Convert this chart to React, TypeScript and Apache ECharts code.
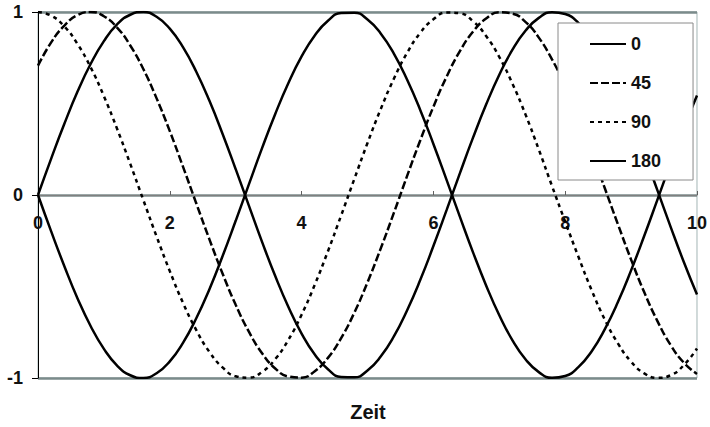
import React, { useEffect, useRef } from "react";
import * as echarts from "echarts";

const XS = [
  0, 0.2, 0.4, 0.6, 0.8, 1.0, 1.2, 1.4, 1.6, 1.8, 2.0, 2.2, 2.4, 2.6, 2.8, 3.0, 3.2, 3.4, 3.6, 3.8,
  4.0, 4.2, 4.4, 4.6, 4.8, 5.0, 5.2, 5.4, 5.6, 5.8, 6.0, 6.2, 6.4, 6.6, 6.8, 7.0, 7.2, 7.4, 7.6, 7.8,
  8.0, 8.2, 8.4, 8.6, 8.8, 9.0, 9.2, 9.4, 9.6, 9.8, 10.0,
];

const SERIES_NAMES = ["0", "45", "90", "180"];

const PHASE_0 = [
  0, 0.199, 0.389, 0.565, 0.717, 0.841, 0.932, 0.985, 1.0, 0.974, 0.909, 0.808, 0.675, 0.516, 0.335,
  0.141, -0.058, -0.256, -0.443, -0.612, -0.757, -0.872, -0.952, -0.994, -0.996, -0.959, -0.883,
  -0.773, -0.631, -0.465, -0.279, -0.083, 0.117, 0.312, 0.494, 0.657, 0.794, 0.899, 0.968, 0.999,
  0.989, 0.941, 0.855, 0.734, 0.585, 0.412, 0.223, 0.025, -0.174, -0.366, -0.544,
];

const PHASE_45 = [
  0.707, 0.834, 0.926, 0.983, 1.0, 0.977, 0.915, 0.817, 0.687, 0.528, 0.349, 0.155, -0.044, -0.241,
  -0.429, -0.6, -0.747, -0.865, -0.948, -0.992, -0.998, -0.963, -0.89, -0.782, -0.643, -0.477,
  -0.293, -0.098, 0.103, 0.298, 0.482, 0.646, 0.785, 0.892, 0.964, 0.998, 0.991, 0.945, 0.86, 0.741,
  0.596, 0.427, 0.238, 0.038, -0.16, -0.353, -0.532, -0.689, -0.82, -0.916, -0.978,
];

const PHASE_90 = [
  1.0, 0.98, 0.921, 0.825, 0.697, 0.54, 0.362, 0.17, -0.029, -0.227, -0.416, -0.589, -0.737, -0.857,
  -0.942, -0.99, -0.998, -0.967, -0.897, -0.791, -0.654, -0.49, -0.307, -0.112, 0.087, 0.284, 0.469,
  0.635, 0.776, 0.886, 0.96, 0.997, 0.993, 0.95, 0.869, 0.754, 0.608, 0.438, 0.248, 0.049, -0.146,
  -0.337, -0.519, -0.68, -0.811, -0.911, -0.975, -0.999, -0.985, -0.93, -0.839,
];

const PHASE_180 = [
  0, -0.199, -0.389, -0.565, -0.717, -0.841, -0.932, -0.985, -1.0, -0.974, -0.909, -0.808, -0.675,
  -0.516, -0.335, -0.141, 0.058, 0.256, 0.443, 0.612, 0.757, 0.872, 0.952, 0.994, 0.996, 0.959,
  0.883, 0.773, 0.631, 0.465, 0.279, 0.083, -0.117, -0.312, -0.494, -0.657, -0.794, -0.899, -0.968,
  -0.999, -0.989, -0.941, -0.855, -0.734, -0.585, -0.412, -0.223, -0.025, 0.174, 0.366, 0.544,
];

const X_AXIS_TITLE = "Zeit";

const FONT = "'Liberation Sans', Arial, sans-serif";

export default function App() {
  const ref = useRef<HTMLDivElement>(null);

  useEffect(() => {
    if (!ref.current) return;
    const chart = echarts.init(ref.current, undefined, { renderer: "svg" });
    const values = [PHASE_0, PHASE_45, PHASE_90, PHASE_180];
    const dashes: any[] = ["solid", [8, 3], [4, 4], "solid"];

    chart.setOption({
      animation: false,
      backgroundColor: "#ffffff",
      textStyle: { fontFamily: FONT },
      grid: {
        left: 38,
        right: 11,
        top: 12,
        bottom: 49,
        show: true,
        borderColor: "#a3b5b5",
        borderWidth: 1,
        backgroundColor: "transparent",
      },
      legend: {
        orient: "vertical",
        left: 558,
        top: 23,
        padding: [12, 32, 10, 31],
        itemWidth: 36,
        itemHeight: 14,
        itemGap: 21,
        backgroundColor: "#ffffff",
        borderColor: "#8a8a8a",
        borderWidth: 1,
        borderRadius: 0,
        itemStyle: { opacity: 0, color: "transparent", borderColor: "transparent", borderWidth: 0 },
        textStyle: { fontFamily: FONT, fontSize: 18, fontWeight: "bold", color: "#111" },
        data: SERIES_NAMES,
      },
      xAxis: {
        type: "value",
        min: 0,
        max: 10,
        interval: 2,
        offset: -183,
        axisLine: { onZero: false, lineStyle: { color: "#808080", width: 1 } },
        axisTick: { show: true, inside: true, length: 4, lineStyle: { color: "#606060" } },
        axisLabel: {
          margin: 19,
          fontFamily: FONT,
          fontSize: 18,
          fontWeight: "bold",
          color: "#111",
        },
        splitLine: { show: false },
      },
      yAxis: {
        type: "value",
        min: -1,
        max: 1,
        interval: 1,
        axisLine: { show: true, lineStyle: { color: "#000", width: 1 } },
        axisTick: { show: true, inside: false, length: 6, lineStyle: { color: "#000" } },
        axisLabel: {
          margin: 15,
          fontFamily: FONT,
          fontSize: 18,
          fontWeight: "bold",
          color: "#111",
        },
        splitLine: { show: true, lineStyle: { color: "#7b8b8b", width: 2.5 } },
      },
      graphic: [
        {
          type: "text",
          x: 368,
          y: 412,
          style: {
            text: X_AXIS_TITLE,
            x: 0,
            y: 0,
            align: "center",
            verticalAlign: "middle",
            fontFamily: FONT,
            fontSize: 20,
            fontWeight: "bold",
            fill: "#111",
          },
        },
      ],
      series: SERIES_NAMES.map((name, k) => ({
        name,
        type: "line",
        smooth: true,
        symbol: "circle",
        showSymbol: false,
        data: XS.map((x, i) => [x, values[k][i]]),
        lineStyle: { color: "#000", width: 2.5, type: dashes[k] },
        itemStyle: { color: "#000" },
        z: 3,
      })),
    });

    return () => chart.dispose();
  }, []);

  return (
    <div
      ref={ref}
      style={{ position: "fixed", left: 0, top: 0, width: 710, height: 427 }}
    />
  );
}
